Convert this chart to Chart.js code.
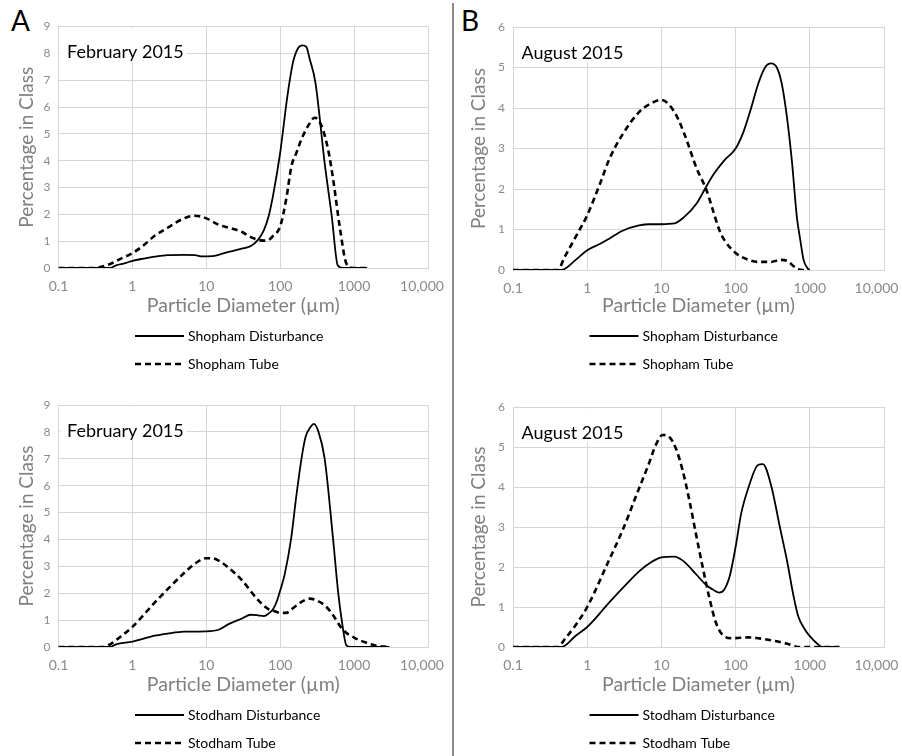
<!DOCTYPE html>
<html><head><meta charset="utf-8">
<script src="https://cdn.jsdelivr.net/npm/chart.js@4/dist/chart.umd.min.js"></script>
<style>
html,body{margin:0;padding:0;background:#fff;}
body{width:902px;height:756px;position:relative;overflow:hidden;font-family:Lato,sans-serif;}
.panel{position:absolute;width:450px;height:378px;}
.panel canvas{display:block;}
.lbl{position:absolute;font-family:Lato,sans-serif;font-size:28px;color:#000;line-height:1;}
#sep{position:absolute;left:452px;top:3px;width:2px;height:753px;background:#8c8c8c;}
</style></head><body>
<div class="lbl" style="left:11px;top:6px">A</div>
<div class="lbl" style="left:461px;top:6px">B</div>
<div id="sep"></div>
<div class="panel" style="left:0;top:0"><canvas id="c1" width="450" height="378"></canvas></div>
<div class="panel" style="left:452px;top:0"><canvas id="c2" width="450" height="378"></canvas></div>
<div class="panel" style="left:0;top:379px"><canvas id="c3" width="450" height="377"></canvas></div>
<div class="panel" style="left:452px;top:379px"><canvas id="c4" width="450" height="377"></canvas></div>
<script>
// ---- axis ticks ----
const xTickValues = [0.1, 1, 10, 100, 1000, 10000];
const xTickLabels = ['0.1', '1', '10', '100', '1000', '10,000'];
const panelTitles = ['February 2015', 'August 2015', 'February 2015', 'August 2015'];
const seriesLabels = [['Shopham Disturbance', 'Shopham Tube'], ['Shopham Disturbance', 'Shopham Tube'], ['Stodham Disturbance', 'Stodham Tube'], ['Stodham Disturbance', 'Stodham Tube']];
const yMaxValues = [9, 6, 9, 6];

// ---- A top: Shopham, February 2015 ----
const shophamFebDisturbanceSize = [0.1, 0.3, 0.5, 0.6, 0.8, 1, 1.5, 2, 3, 5, 7, 9, 12, 15, 20, 30, 40, 50, 60, 70, 80, 100, 125, 150, 175, 200, 225, 250, 300, 400, 500, 600, 700, 1000, 1500];
const shophamFebDisturbancePct = [0, 0, 0, 0.1, 0.18, 0.27, 0.36, 0.42, 0.48, 0.49, 0.48, 0.43, 0.44, 0.5, 0.6, 0.72, 0.82, 1.05, 1.4, 1.95, 2.7, 4.3, 6.4, 7.7, 8.2, 8.3, 8.25, 7.8, 6.9, 3.9, 1.9, 0.1, 0, 0, 0];
const shophamFebTubeSize = [0.1, 0.3, 0.5, 0.7, 1, 1.5, 2, 3, 5, 7, 10, 15, 20, 30, 40, 50, 60, 70, 80, 100, 122, 142, 166, 194, 239, 294, 362, 446, 521, 642, 791, 973, 1500];
const shophamFebTubePct = [0, 0, 0.15, 0.35, 0.55, 0.9, 1.2, 1.5, 1.85, 1.95, 1.85, 1.6, 1.5, 1.35, 1.15, 1.05, 1.02, 1.05, 1.2, 1.55, 2.65, 3.8, 4.3, 4.8, 5.3, 5.6, 5.3, 4.4, 3.3, 1.5, 0.15, 0, 0];

// ---- B top: Shopham, August 2015 ----
const shophamAugDisturbanceSize = [0.1, 0.2, 0.3, 0.45, 0.7, 1, 1.5, 2, 3, 5, 7, 10, 15, 20, 30, 40, 50, 70, 100, 127, 156, 202, 249, 301, 359, 419, 490, 573, 670, 743, 824, 964];
const shophamAugDisturbancePct = [0, 0, 0, 0, 0.25, 0.49, 0.65, 0.78, 0.97, 1.1, 1.13, 1.13, 1.15, 1.3, 1.65, 2.05, 2.35, 2.7, 3.0, 3.4, 3.9, 4.6, 5.0, 5.1, 5.0, 4.6, 3.8, 2.7, 1.3, 0.75, 0.25, 0];
const shophamAugTubeSize = [0.1, 0.2, 0.3, 0.4, 0.5, 0.7, 1, 1.5, 2, 3, 5, 7, 10, 15, 20, 30, 40, 50, 60, 70, 100, 150, 200, 300, 400, 500, 600, 700, 800, 1000];
const shophamAugTubePct = [0, 0, 0, 0, 0.33, 0.82, 1.35, 2.15, 2.75, 3.35, 3.9, 4.1, 4.2, 3.9, 3.4, 2.5, 2.0, 1.45, 1.0, 0.75, 0.42, 0.25, 0.2, 0.2, 0.25, 0.22, 0.1, 0.02, 0, 0];

// ---- A bottom: Stodham, February 2015 ----
const stodhamFebDisturbanceSize = [0.1, 0.3, 0.5, 0.6, 1, 2, 3, 5, 10, 15, 20, 30, 40, 50, 60, 70, 80, 90, 100, 115, 140, 165, 194, 220, 260, 285, 330, 400, 520, 610, 680, 790, 900, 3000];
const stodhamFebDisturbancePct = [0, 0, 0, 0.1, 0.2, 0.42, 0.5, 0.57, 0.58, 0.65, 0.85, 1.05, 1.2, 1.18, 1.15, 1.25, 1.4, 1.7, 2.1, 2.7, 4.0, 5.6, 7.0, 7.8, 8.2, 8.3, 8.0, 7.0, 4.0, 2.0, 1.0, 0.05, 0, 0];
const stodhamFebTubeSize = [0.1, 0.3, 0.4, 0.5, 0.7, 1, 2, 3, 5, 7, 10, 12, 15, 20, 30, 50, 70, 80, 100, 120, 150, 200, 250, 300, 400, 500, 700, 1000, 1500, 2000, 3000];
const stodhamFebTubePct = [0, 0, 0, 0.1, 0.4, 0.75, 1.65, 2.15, 2.75, 3.1, 3.3, 3.3, 3.2, 2.95, 2.5, 1.75, 1.4, 1.35, 1.27, 1.27, 1.45, 1.7, 1.8, 1.75, 1.55, 1.25, 0.65, 0.35, 0.15, 0.05, 0];

// ---- B bottom: Stodham, August 2015 ----
const stodhamAugDisturbanceSize = [0.1, 0.3, 0.45, 0.7, 1, 2, 3, 5, 7, 10, 15, 20, 30, 40, 50, 60, 70, 83, 100, 119, 150, 200, 233, 300, 400, 500, 600, 700, 850, 1000, 1200, 1500, 2500];
const stodhamAugDisturbancePct = [0, 0, 0, 0.28, 0.5, 1.12, 1.47, 1.89, 2.1, 2.24, 2.26, 2.14, 1.8, 1.55, 1.43, 1.36, 1.43, 1.76, 2.5, 3.34, 4.0, 4.55, 4.57, 4.05, 2.95, 2.1, 1.3, 0.76, 0.45, 0.27, 0.12, 0, 0];
const stodhamAugTubeSize = [0.1, 0.2, 0.3, 0.4, 0.5, 0.7, 1, 2, 3, 4.5, 6.8, 8.4, 10.4, 12.8, 15.7, 19.3, 23.8, 29.2, 36, 44, 54.5, 67, 90, 150, 200, 300, 500, 700, 1000, 2500];
const stodhamAugTubePct = [0, 0, 0, 0, 0.2, 0.55, 1.0, 2.2, 2.92, 3.75, 4.59, 5.05, 5.3, 5.25, 4.96, 4.42, 3.67, 2.83, 2.0, 1.25, 0.6, 0.3, 0.22, 0.24, 0.22, 0.17, 0.08, 0, 0, 0];

const seriesData = [
  [[shophamFebDisturbanceSize, shophamFebDisturbancePct], [shophamFebTubeSize, shophamFebTubePct]],
  [[shophamAugDisturbanceSize, shophamAugDisturbancePct], [shophamAugTubeSize, shophamAugTubePct]],
  [[stodhamFebDisturbanceSize, stodhamFebDisturbancePct], [stodhamFebTubeSize, stodhamFebTubePct]],
  [[stodhamAugDisturbanceSize, stodhamAugDisturbancePct], [stodhamAugTubeSize, stodhamAugTubePct]]
];

// ---- layout (positions/styles only) ----
const layouts = [
  {id: 'c1', padLeft: 8, yWidth: 50.5, padRight: 22, padTop: 26.5, xHeight: 50, padBottom: 60, lastLabelShift: -6, legendY: 336},
  {id: 'c2', padLeft: 8, yWidth: 53, padRight: 18, padTop: 27, xHeight: 48, padBottom: 60, lastLabelShift: -7.5, legendY: 336},
  {id: 'c3', padLeft: 8, yWidth: 50.5, padRight: 22, padTop: 26, xHeight: 50, padBottom: 59, lastLabelShift: -6, legendY: 336},
  {id: 'c4', padLeft: 8, yWidth: 53, padRight: 18, padTop: 28, xHeight: 50, padBottom: 59, lastLabelShift: -7.5, legendY: 336}
];

const GRID = '#d6d6d6';
const FONT = 'Lato';

function toPoints(xs, ys) { return xs.map((x, i) => ({x: x, y: ys[i]})); }

const periodLabelPlugin = {
  id: 'periodLabel',
  beforeDatasetsDraw(chart, args, opts) {
    const {ctx, chartArea} = chart;
    ctx.save();
    ctx.font = '18px ' + FONT;
    const w = ctx.measureText(opts.text).width;
    ctx.fillStyle = '#fff';
    ctx.fillRect(chartArea.left + 1.5, chartArea.top + 1.5, w + 10, 34);
    ctx.fillStyle = '#000';
    ctx.textBaseline = 'alphabetic';
    ctx.textAlign = 'left';
    ctx.fillText(opts.text, chartArea.left + 8.5, chartArea.top + 31.5);
    ctx.restore();
  }
};

const shiftLastLabelPlugin = {
  id: 'shiftLastLabel',
  beforeDraw(chart, args, opts) {
    const sc = chart.scales.x;
    const items = sc.getLabelItems(chart.chartArea);
    const last = items[items.length - 1];
    if (last && !last._shifted) {
      last.options.translation[0] += opts.dx;
      last._shifted = true;
    }
  }
};

const stackedLegendPlugin = {
  id: 'stackedLegend',
  afterDraw(chart, args, opts) {
    const {ctx, chartArea} = chart;
    chart.data.datasets.forEach((ds, i) => {
      const y = opts.y0 + i * 28;
      const x0 = chartArea.left + 76.5;
      ctx.save();
      ctx.strokeStyle = '#000';
      ctx.lineWidth = i === 0 ? 2 : 2.6;
      ctx.setLineDash(ds.borderDash || []);
      ctx.beginPath();
      ctx.moveTo(x0, y);
      ctx.lineTo(x0 + 49, y);
      ctx.stroke();
      ctx.setLineDash([]);
      ctx.fillStyle = '#000';
      ctx.font = '14px ' + FONT;
      ctx.textBaseline = 'middle';
      ctx.textAlign = 'left';
      ctx.fillText(ds.label, x0 + 53, y);
      ctx.restore();
    });
  }
};

layouts.forEach((L, p) => {
  const [[dx, dy], [tx, ty]] = seriesData[p];
  new Chart(document.getElementById(L.id), {
    type: 'line',
    data: {
      datasets: [
        {label: seriesLabels[p][0], data: toPoints(dx, dy), borderColor: '#000', borderWidth: 1.8,
         pointRadius: 0, fill: false, cubicInterpolationMode: 'monotone'},
        {label: seriesLabels[p][1], data: toPoints(tx, ty), borderColor: '#000', borderWidth: 2.6,
         borderDash: [6, 4], pointRadius: 0, fill: false, cubicInterpolationMode: 'monotone'}
      ]
    },
    options: {
      responsive: false,
      devicePixelRatio: 1,
      animation: false,
      events: [],
      layout: {padding: {left: L.padLeft, right: L.padRight, top: L.padTop, bottom: L.padBottom}},
      plugins: {
        legend: {display: false},
        tooltip: {enabled: false},
        periodLabel: {text: panelTitles[p]},
        shiftLastLabel: {dx: L.lastLabelShift},
        stackedLegend: {y0: L.legendY}
      },
      scales: {
        x: {
          type: 'logarithmic',
          min: 0.1, max: 10000,
          afterBuildTicks(s) { s.ticks = xTickValues.map(v => ({value: v})); },
          afterFit(s) { s.height = L.xHeight; s.paddingLeft = 0; s.paddingRight = 0; },
          ticks: {
            callback: (v, i) => xTickLabels[i],
            color: '#8a8a8a', font: {family: FONT, size: 14}, padding: 10,
            maxRotation: 0, minRotation: 0, autoSkip: false
          },
          grid: {color: GRID, lineWidth: 1, drawTicks: false},
          border: {color: GRID, width: 1},
          title: {display: true, text: 'Particle Diameter (\u00b5m)', color: '#808080',
                  font: {family: FONT, size: 19.5}, padding: {top: 0, bottom: 0.5}}
        },
        y: {
          min: 0, max: yMaxValues[p],
          afterFit(s) { s.width = L.yWidth; s.paddingTop = 0; s.paddingBottom = 0; },
          ticks: {stepSize: 1, color: '#8a8a8a', font: {family: FONT, size: 12}, padding: 8},
          grid: {color: GRID, lineWidth: 1, drawTicks: false},
          border: {color: GRID, width: 1},
          title: {display: true, text: 'Percentage in Class', color: '#808080',
                  font: {family: FONT, size: 19}, padding: {top: 7.6, bottom: 0}}
        }
      }
    },
    plugins: [periodLabelPlugin, shiftLastLabelPlugin, stackedLegendPlugin]
  });
});
</script>
</body></html>
